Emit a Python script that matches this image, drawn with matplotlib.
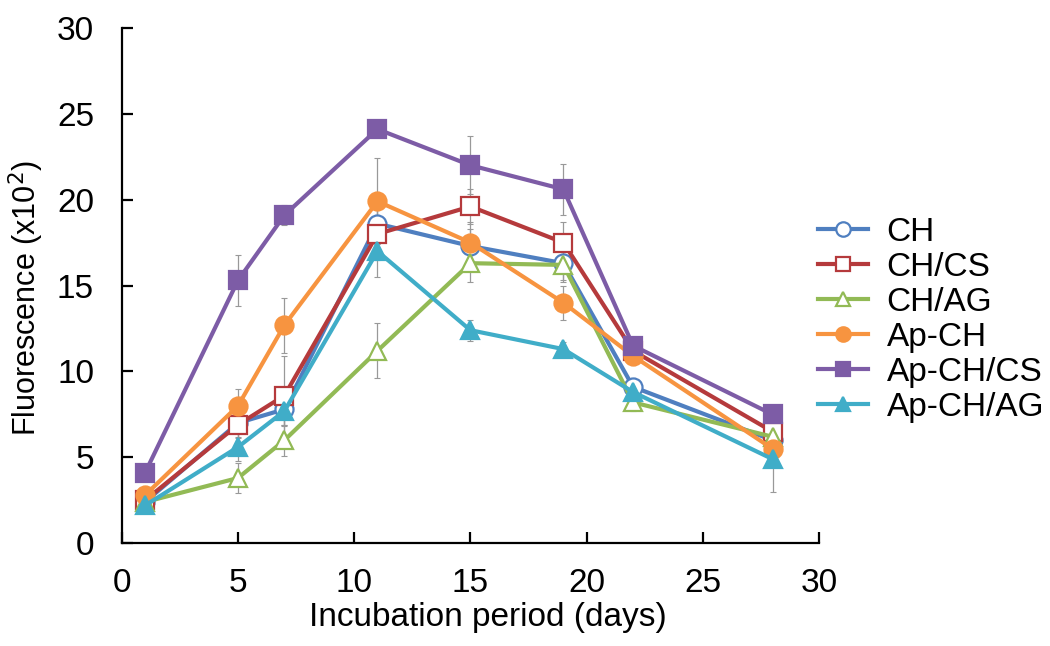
import numpy as np
import matplotlib
matplotlib.use("Agg")
import matplotlib.pyplot as plt

plt.rcParams['font.family'] = ['Liberation Sans', 'DejaVu Sans']

# --- Data ---
days = [1, 5, 7, 11, 15, 19, 22, 28]

ch       = [2.4, 7.0, 7.8, 18.6, 17.3, 16.3, 9.1, 6.0]
ch_cs    = [2.5, 6.9, 8.6, 18.0, 19.6, 17.5, 11.2, 6.5]
ch_ag    = [2.4, 3.8, 6.0, 11.2, 16.3, 16.2, 8.2, 6.2]
ap_ch    = [2.8, 8.0, 12.7, 19.9, 17.5, 14.0, 10.9, 5.5]
ap_ch_cs = [4.1, 15.3, 19.1, 24.1, 22.0, 20.6, 11.5, 7.5]
ap_ch_ag = [2.2, 5.6, 7.7, 17.0, 12.4, 11.3, 8.8, 4.9]

ch_err       = [0.3, 0.8, 1.0, 1.2, 1.0, 1.0, 0.5, 0.6]
ch_cs_err    = [0.3, 0.8, 2.3, 1.5, 1.0, 1.2, 0.6, 0.5]
ch_ag_err    = [0.3, 0.9, 0.9, 1.6, 1.1, 1.0, 0.5, 0.5]
ap_ch_err    = [0.3, 1.0, 1.6, 2.5, 1.2, 1.0, 0.5, 0.6]
ap_ch_cs_err = [0.4, 1.5, 0.6, 0.3, 1.7, 1.5, 0.5, 0.5]
ap_ch_ag_err = [0.3, 0.8, 0.8, 1.5, 0.6, 0.4, 0.4, 1.9]

labels = ["CH", "CH/CS", "CH/AG", "Ap-CH", "Ap-CH/CS", "Ap-CH/AG"]
series = [ch, ch_cs, ch_ag, ap_ch, ap_ch_cs, ap_ch_ag]
errors = [ch_err, ch_cs_err, ch_ag_err, ap_ch_err, ap_ch_cs_err, ap_ch_ag_err]
colors = ["#4F7FC0", "#B53A3C", "#92BA55", "#F79440", "#7D5CA6", "#40ADC8"]
markers = ["o", "s", "^", "o", "s", "^"]
filled = [False, False, False, True, True, True]

fig = plt.figure(figsize=(10.5, 6.46), dpi=100)
ax = fig.add_axes([0.116, 0.159, 0.664, 0.798])

for y, e, lab, c, m, f in zip(series, errors, labels, colors, markers, filled):
    ax.errorbar(days, y, yerr=e, fmt="none", ecolor="#999999", elinewidth=0.9,
                capsize=2, capthick=0.8, zorder=1)
    ax.plot(days, y, color=c, lw=3, marker=m, ms=13,
            markerfacecolor=c if f else "white", markeredgecolor=c,
            markeredgewidth=1.6, label=lab, zorder=2)

ax.set_xlim(0, 30)
ax.set_ylim(0, 30)
ax.set_xticks(range(0, 31, 5))
ax.set_yticks(range(0, 31, 5))
ax.spines["top"].set_visible(False)
ax.spines["right"].set_visible(False)
for s in ("left", "bottom"):
    ax.spines[s].set_linewidth(1.6)
ax.tick_params(direction="in", length=8, width=1.6, labelsize=24)
ax.tick_params(axis="x", pad=18)
ax.tick_params(axis="y", pad=20)

ax.set_xlabel("Incubation period (days)", fontsize=24, labelpad=2)
ax.xaxis.label.set_x(0.525)
ax.set_ylabel("Fluorescence (x10$^2$)", fontsize=22, labelpad=8)
ax.yaxis.label.set_y(0.476)

ax.legend(loc="center left", bbox_to_anchor=(0.98, 0.433), frameon=False,
          fontsize=24, handlelength=1.5, handletextpad=0.55, labelspacing=0.12,
          markerscale=0.8, borderaxespad=0)

fig.savefig("out.png", dpi=100)
